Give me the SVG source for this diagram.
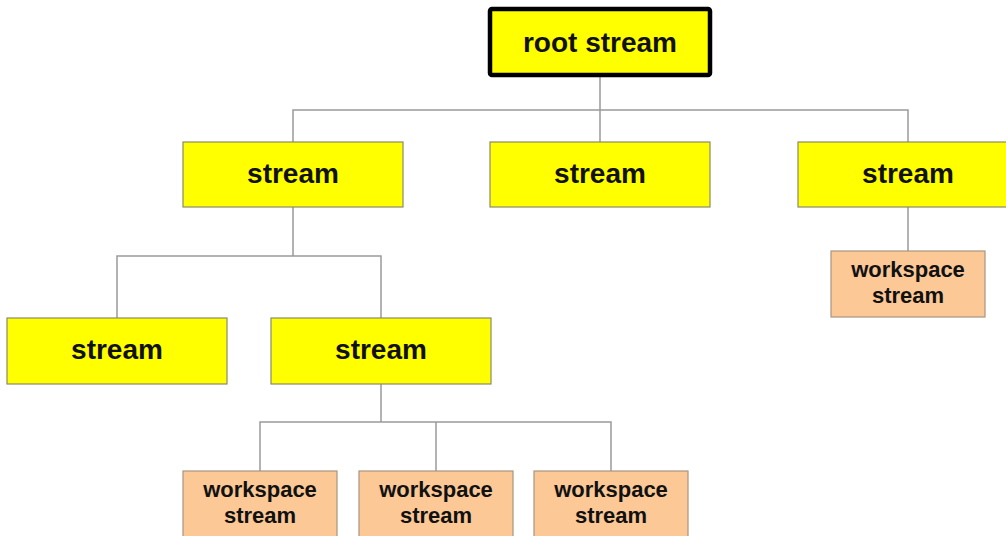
<svg xmlns="http://www.w3.org/2000/svg" width="1006" height="536" viewBox="0 0 1006 536">
  <style>
    .conn { fill: none; stroke: #9a9a9a; stroke-width: 1.5; }
    .stream { fill: #ffff00; stroke: #8a8a6a; stroke-width: 1.2; }
    .root { fill: #ffff00; stroke: #000000; stroke-width: 4.5; }
    .ws { fill: #fbc896; stroke: #a89580; stroke-width: 1.2; }
    .big { font-family: "Liberation Sans", Arial, sans-serif; font-weight: bold; font-size: 28px; fill: #111; text-anchor: middle; }
    .small { font-family: "Liberation Sans", Arial, sans-serif; font-weight: bold; font-size: 22px; fill: #111; text-anchor: middle; }
  </style>
  <rect x="0" y="0" width="1006" height="536" fill="#ffffff"/>

  <g id="connectors">
    <!-- root to first level -->
    <path class="conn" d="M600 77 V110 M293 142 V110 H908 V142 M600 110 V142"/>
    <!-- first-level stream to its children -->
    <path class="conn" d="M293 207 V256 M117 318 V256 H381 V318"/>
    <!-- right stream to its workspace -->
    <path class="conn" d="M908 207 V251"/>
    <!-- lower stream to workspaces -->
    <path class="conn" d="M381 384 V422 M260 471 V422 H611 V471 M436 422 V471"/>
  </g>

  <g id="root">
    <rect class="root" x="490" y="9" width="220" height="66" rx="2"/>
    <text class="big" x="600" y="52">root stream</text>
  </g>

  <g id="stream-a">
    <rect class="stream" x="183" y="142" width="220" height="65"/>
    <text class="big" x="293" y="183">stream</text>
  </g>
  <g id="stream-b">
    <rect class="stream" x="490" y="142" width="220" height="65"/>
    <text class="big" x="600" y="183">stream</text>
  </g>
  <g id="stream-c">
    <rect class="stream" x="798" y="142" width="220" height="65"/>
    <text class="big" x="908" y="183">stream</text>
  </g>

  <g id="stream-a1">
    <rect class="stream" x="7" y="318" width="220" height="66"/>
    <text class="big" x="117" y="359">stream</text>
  </g>
  <g id="stream-a2">
    <rect class="stream" x="271" y="318" width="220" height="66"/>
    <text class="big" x="381" y="359">stream</text>
  </g>

  <g id="workspace-c">
    <rect class="ws" x="831" y="251" width="154" height="66"/>
    <text class="small" x="908" y="277">workspace</text>
    <text class="small" x="908" y="303">stream</text>
  </g>

  <g id="workspace-1">
    <rect class="ws" x="183" y="471" width="154" height="66"/>
    <text class="small" x="260" y="497">workspace</text>
    <text class="small" x="260" y="523">stream</text>
  </g>
  <g id="workspace-2">
    <rect class="ws" x="359" y="471" width="154" height="66"/>
    <text class="small" x="436" y="497">workspace</text>
    <text class="small" x="436" y="523">stream</text>
  </g>
  <g id="workspace-3">
    <rect class="ws" x="534" y="471" width="154" height="66"/>
    <text class="small" x="611" y="497">workspace</text>
    <text class="small" x="611" y="523">stream</text>
  </g>
</svg>
